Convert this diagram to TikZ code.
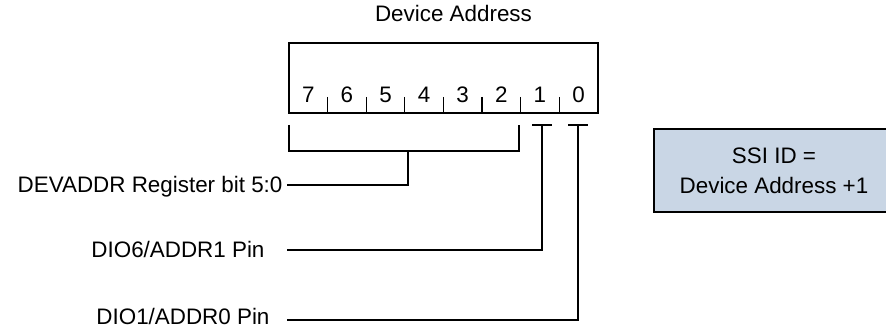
\documentclass[tikz,border=0pt]{standalone}
\usepackage{fontspec}
\setmainfont{Liberation Sans}
\usetikzlibrary{positioning}
\definecolor{IdBlue}{RGB}{201,214,229}

\begin{document}
\begin{tikzpicture}[x=0.75pt,y=-0.75pt,line width=0.8pt,
	lbl/.style={inner sep=0pt,font=\fontsize{16.8}{20}\selectfont},
	idbox/.style={draw,line width=1.3pt,fill=IdBlue,align=center,
		minimum width=180pt,minimum height=62.25pt,
		font=\fontsize{16.8}{22.5}\selectfont}]
		\useasboundingbox (0,0) rectangle (886,331);
		% register with its eight bits
		\node[lbl,anchor=base] (title) at (453.5,22) {Device Address};
		\draw (289,43) rectangle (598,113);
		\foreach \b [count=\i from 0] in {7,...,0}
			\node[lbl,anchor=base] (b\b) at ({308.3+38.6*\i},103) {\b};
		\foreach \i in {1,...,7}
			\draw ({289+38.6*\i},97) -- ({289+38.6*\i},113);
		% sources
		\node[lbl,anchor=base east] (devaddr) at (283,193) {DEVADDR Register bit 5:0};
		\node[lbl,anchor=base east] (pin1) at (265,258) {DIO6/ADDR1 Pin};
		\node[lbl,anchor=base east] (pin0) at (270,325) {DIO1/ADDR0 Pin};
		\coordinate (r5) at (287,185);
		\coordinate (r1) at (287,250);
		\coordinate (r0) at (287,320);
		% bits 7:2
		\coordinate (lo) at (289,125);
		\coordinate (hi) at (519,125);
		\draw (lo) -- ++(0,26) -| (hi);
		\draw (408,151) |- (r5);
		% bit 1 and bit 0
		\draw (532,125) -- (552,125);
		\draw (542,125) |- (r1);
		\draw (568,125) -- (588,125);
		\draw (578,125) |- (r0);
		% SSI ID box
		\node[idbox] (ssi) at (774,170.5) {SSI ID =\\Device Address +1};
	\end{tikzpicture}
\end{document}
